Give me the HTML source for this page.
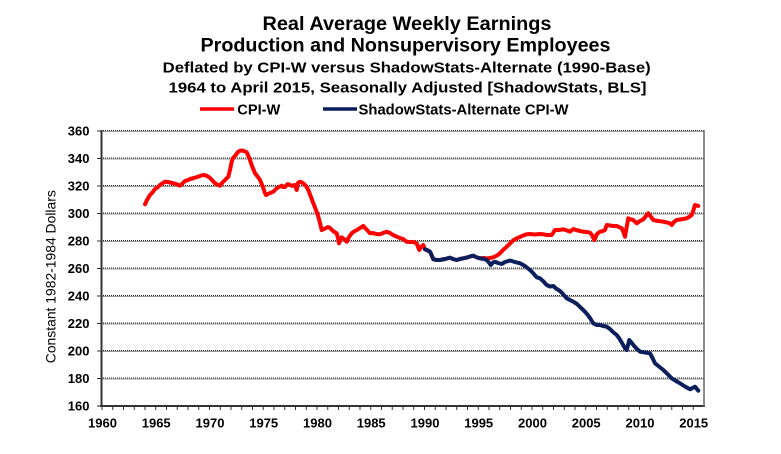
<!DOCTYPE html>
<html>
<head>
<meta charset="utf-8">
<style>
html,body{margin:0;padding:0;background:#fff;}
svg{display:block;}
text{font-family:"Liberation Sans",Arial,sans-serif;fill:#000;}
.b{font-weight:bold;}
</style>
</head>
<body>
<svg width="781" height="454" viewBox="0 0 781 454" xmlns="http://www.w3.org/2000/svg">
<rect x="0" y="0" width="781" height="454" fill="#fff"/>

<!-- Titles -->
<text class="b" x="407" y="30" font-size="19" text-anchor="middle" textLength="289" lengthAdjust="spacingAndGlyphs">Real Average Weekly Earnings</text>
<text class="b" x="405.5" y="51.7" font-size="19" text-anchor="middle" textLength="410" lengthAdjust="spacingAndGlyphs">Production and Nonsupervisory Employees</text>
<text class="b" x="406.7" y="72.7" font-size="15" text-anchor="middle" textLength="488" lengthAdjust="spacingAndGlyphs">Deflated by CPI-W versus ShadowStats-Alternate (1990-Base)</text>
<text class="b" x="407.5" y="92.3" font-size="15" text-anchor="middle" textLength="478" lengthAdjust="spacingAndGlyphs">1964 to April 2015, Seasonally Adjusted [ShadowStats, BLS]</text>

<!-- Legend -->
<line x1="200" y1="109" x2="234" y2="109" stroke="#ff0000" stroke-width="3.5"/>
<text class="b" x="237.3" y="114.3" font-size="14.5" textLength="43" lengthAdjust="spacingAndGlyphs">CPI-W</text>
<line x1="323" y1="109" x2="357" y2="109" stroke="#0b1f5c" stroke-width="3.5"/>
<text class="b" x="358.5" y="114.3" font-size="14.5" textLength="210" lengthAdjust="spacingAndGlyphs">ShadowStats-Alternate CPI-W</text>

<!-- Gridlines -->
<g stroke-width="1" fill="none">
  <g stroke="#9a9a9a">
    <line x1="101" y1="131.5" x2="704" y2="131.5"/>
    <line x1="101" y1="159" x2="704" y2="159"/>
    <line x1="101" y1="186.5" x2="704" y2="186.5"/>
    <line x1="101" y1="214" x2="704" y2="214"/>
    <line x1="101" y1="241.5" x2="704" y2="241.5"/>
    <line x1="101" y1="269" x2="704" y2="269"/>
    <line x1="101" y1="296.5" x2="704" y2="296.5"/>
    <line x1="101" y1="324" x2="704" y2="324"/>
    <line x1="101" y1="351.5" x2="704" y2="351.5"/>
    <line x1="101" y1="379" x2="704" y2="379"/>
  </g>
  <g stroke="#222" stroke-dasharray="1 1">
    <line x1="101" y1="130.5" x2="704" y2="130.5"/>
    <line x1="101" y1="158" x2="704" y2="158"/>
    <line x1="101" y1="185.5" x2="704" y2="185.5"/>
    <line x1="101" y1="213" x2="704" y2="213"/>
    <line x1="101" y1="240.5" x2="704" y2="240.5"/>
    <line x1="101" y1="268" x2="704" y2="268"/>
    <line x1="101" y1="295.5" x2="704" y2="295.5"/>
    <line x1="101" y1="323" x2="704" y2="323"/>
    <line x1="101" y1="350.5" x2="704" y2="350.5"/>
    <line x1="101" y1="378" x2="704" y2="378"/>
  </g>
</g>

<!-- Axes -->
<g stroke="#333" fill="none">
  <line x1="101.5" y1="130" x2="101.5" y2="407" stroke-width="2"/>
  <line x1="100" y1="406" x2="705" y2="406" stroke-width="2"/>
  <line x1="704" y1="130" x2="704" y2="407" stroke-width="1.5" stroke="#666"/>
</g>

<!-- Y ticks -->
<g stroke="#333" stroke-width="1">
  <line x1="97" y1="131" x2="101" y2="131"/>
  <line x1="97" y1="158.5" x2="101" y2="158.5"/>
  <line x1="97" y1="186" x2="101" y2="186"/>
  <line x1="97" y1="213.5" x2="101" y2="213.5"/>
  <line x1="97" y1="241" x2="101" y2="241"/>
  <line x1="97" y1="268.5" x2="101" y2="268.5"/>
  <line x1="97" y1="296" x2="101" y2="296"/>
  <line x1="97" y1="323.5" x2="101" y2="323.5"/>
  <line x1="97" y1="351" x2="101" y2="351"/>
  <line x1="97" y1="378.5" x2="101" y2="378.5"/>
  <line x1="97" y1="406" x2="101" y2="406"/>
</g>

<!-- X ticks every year -->
<g stroke="#333" stroke-width="1" id="xt">
  <line x1="102" y1="406" x2="102" y2="410"/><line x1="112.75" y1="406" x2="112.75" y2="410"/><line x1="123.5" y1="406" x2="123.5" y2="410"/><line x1="134.25" y1="406" x2="134.25" y2="410"/><line x1="145" y1="406" x2="145" y2="410"/>
  <line x1="155.75" y1="406" x2="155.75" y2="410"/><line x1="166.5" y1="406" x2="166.5" y2="410"/><line x1="177.25" y1="406" x2="177.25" y2="410"/><line x1="188" y1="406" x2="188" y2="410"/><line x1="198.75" y1="406" x2="198.75" y2="410"/>
  <line x1="209.5" y1="406" x2="209.5" y2="410"/><line x1="220.25" y1="406" x2="220.25" y2="410"/><line x1="231" y1="406" x2="231" y2="410"/><line x1="241.75" y1="406" x2="241.75" y2="410"/><line x1="252.5" y1="406" x2="252.5" y2="410"/>
  <line x1="263.25" y1="406" x2="263.25" y2="410"/><line x1="274" y1="406" x2="274" y2="410"/><line x1="284.75" y1="406" x2="284.75" y2="410"/><line x1="295.5" y1="406" x2="295.5" y2="410"/><line x1="306.25" y1="406" x2="306.25" y2="410"/>
  <line x1="317" y1="406" x2="317" y2="410"/><line x1="327.75" y1="406" x2="327.75" y2="410"/><line x1="338.5" y1="406" x2="338.5" y2="410"/><line x1="349.25" y1="406" x2="349.25" y2="410"/><line x1="360" y1="406" x2="360" y2="410"/>
  <line x1="370.75" y1="406" x2="370.75" y2="410"/><line x1="381.5" y1="406" x2="381.5" y2="410"/><line x1="392.25" y1="406" x2="392.25" y2="410"/><line x1="403" y1="406" x2="403" y2="410"/><line x1="413.75" y1="406" x2="413.75" y2="410"/>
  <line x1="424.5" y1="406" x2="424.5" y2="410"/><line x1="435.25" y1="406" x2="435.25" y2="410"/><line x1="446" y1="406" x2="446" y2="410"/><line x1="456.75" y1="406" x2="456.75" y2="410"/><line x1="467.5" y1="406" x2="467.5" y2="410"/>
  <line x1="478.25" y1="406" x2="478.25" y2="410"/><line x1="489" y1="406" x2="489" y2="410"/><line x1="499.75" y1="406" x2="499.75" y2="410"/><line x1="510.5" y1="406" x2="510.5" y2="410"/><line x1="521.25" y1="406" x2="521.25" y2="410"/>
  <line x1="532" y1="406" x2="532" y2="410"/><line x1="542.75" y1="406" x2="542.75" y2="410"/><line x1="553.5" y1="406" x2="553.5" y2="410"/><line x1="564.25" y1="406" x2="564.25" y2="410"/><line x1="575" y1="406" x2="575" y2="410"/>
  <line x1="585.75" y1="406" x2="585.75" y2="410"/><line x1="596.5" y1="406" x2="596.5" y2="410"/><line x1="607.25" y1="406" x2="607.25" y2="410"/><line x1="618" y1="406" x2="618" y2="410"/><line x1="628.75" y1="406" x2="628.75" y2="410"/>
  <line x1="639.5" y1="406" x2="639.5" y2="410"/><line x1="650.25" y1="406" x2="650.25" y2="410"/><line x1="661" y1="406" x2="661" y2="410"/><line x1="671.75" y1="406" x2="671.75" y2="410"/><line x1="682.5" y1="406" x2="682.5" y2="410"/>
  <line x1="693.25" y1="406" x2="693.25" y2="410"/>
</g>

<!-- Y labels -->
<g class="b" font-size="13" text-anchor="end">
  <text class="b" x="89.5" y="135.7">360</text>
  <text class="b" x="89.5" y="163.2">340</text>
  <text class="b" x="89.5" y="190.7">320</text>
  <text class="b" x="89.5" y="218.2">300</text>
  <text class="b" x="89.5" y="245.7">280</text>
  <text class="b" x="89.5" y="273.2">260</text>
  <text class="b" x="89.5" y="300.7">240</text>
  <text class="b" x="89.5" y="328.2">220</text>
  <text class="b" x="89.5" y="355.7">200</text>
  <text class="b" x="89.5" y="383.2">180</text>
  <text class="b" x="89.5" y="410.7">160</text>
</g>

<!-- X labels -->
<g font-size="13" text-anchor="middle">
  <text class="b" x="102.5" y="427.3">1960</text>
  <text class="b" x="156.2" y="427.3">1965</text>
  <text class="b" x="210" y="427.3">1970</text>
  <text class="b" x="263.7" y="427.3">1975</text>
  <text class="b" x="317.5" y="427.3">1980</text>
  <text class="b" x="371.2" y="427.3">1985</text>
  <text class="b" x="425" y="427.3">1990</text>
  <text class="b" x="478.7" y="427.3">1995</text>
  <text class="b" x="532.5" y="427.3">2000</text>
  <text class="b" x="586.2" y="427.3">2005</text>
  <text class="b" x="640" y="427.3">2010</text>
  <text class="b" x="693.7" y="427.3">2015</text>
</g>

<!-- Y axis title -->
<text x="0" y="0" font-size="14" text-anchor="middle" textLength="173" lengthAdjust="spacingAndGlyphs" transform="translate(55.5,276.7) rotate(-90)">Constant 1982-1984 Dollars</text>

<!-- CPI-W series (red) -->
<polyline fill="none" stroke="#ff0000" stroke-width="4" stroke-linejoin="round" stroke-linecap="round" points="
145,204.3 147,200 150,195 152,193 155,189 158,187 160,185 163,183 165,181.7 168,182 172,183 176,184 180,185.7 183,183 185,181 188,180 190,179 194,178 197,177 200,176 203.3,175 206,175.5 208.3,176.7 210,178 212,180 215,183.3 218,185 220,185.7 222,183 224,181 226,179 228.3,176.7 230,170 231.7,161.7 233,158 235,156 238,152 240,150.7 242,150.5 244,151 246.7,152.3 248,155 250,160 252,166 255,173.3 258,177 260,180 263,187 264.5,192 266,195 268,194 270,193 273.3,191.7 275,190 277,188 279,187 281.7,185.7 283,187 285,187 286.5,185 288,184 290,185 292,186 294,185 295,185 296.7,190 298,183 300,181.7 302,182.5 304,184 306,186 308.3,190 311,197 313.3,203.3 316,210 318.3,216.7 320,223 321.7,230 324,229 326,228 328,227 330,228 333,231 336.7,233.3 338,238 339,243.3 341.7,237.3 344,239 346.7,241.7 349,237 351.7,233.3 354,231.5 357,230 360,228 363.3,226 366,229 368,231 370,233.3 373,233 376,234 380,234.3 383,233 386.7,231.7 390,233 393,235 396.7,236.7 400,238 403,239 406.7,241.7 410,242 413,242 416.7,243.3 418,247 419.3,250 421,247 423.3,245 425,249.3 430,251.7 433.3,259.3 437,260 440,260 445,259 450,257.7 453,259 456.7,260 460,259 463.3,258.3 467,257.5 470,256.5 473.3,255.7 477,257.5 480,258.3 484,258 486.7,258.5 490,258 493.3,257.3 497,255.5 500,253.3 503,250 506.7,246.7 510,243.5 513,240.5 516.7,238.3 520,237 523,235.5 526.7,234.3 530,234 535,234.5 540,234 543.3,234.3 547,235 551.7,235 555,230 559,230 563.3,229.3 567,230.5 570,231.7 573.3,229 576,230 580,231 583.3,231.7 587,232 590,232.7 592,235 594.3,240 597,234 600,231.7 603,231 605,230 606.7,225 610,225.5 613,226 616.7,226 619,227 621.7,228.3 623,231 625,236.7 626.5,228 628.3,218.3 631,219.5 633.3,220 636.7,223.3 640,221 643.3,219.3 646,216 648.3,213.3 651,217 653.3,220 658,221 663.3,221.7 667,222.5 670,223.3 671.7,225 674,222 676.7,220 680,219.5 683,219 686.7,218.3 689,217 691.7,215 693.5,210 695,205 698.3,206"/>

<!-- ShadowStats series (navy) -->
<polyline fill="none" stroke="#0b1f5c" stroke-width="4" stroke-linejoin="round" stroke-linecap="round" points="
425,249.3 428,250.5 430,251.7 432,256 433.3,259.3 437,260 440,260 445,259 450,257.7 453,259 456.7,260 460,259 463.3,258.3 467,257.5 470,256.5 473.3,255.7 477,257.5 480,258.3 484,259 486.7,260 488.5,262 490.7,265 493,262.5 495,261.7 498,263 501.7,264 505,262 510,260.5 515,262 520,263.3 525,266 530,270 533,273 536.7,277.3 540,278.3 543,281 546.7,285 550,286.5 553.3,286 556,288.5 560,291 563,294 566.7,298.3 570,300 573.3,301.7 577,304 580,307 583.3,310 587,314 590,318 593.3,323.3 596.7,325 600,325 603,326 606.7,326.7 610,329 613,332 616.7,335 619,338 622,343 625,348.3 626.7,350 628,345 629.3,340 631,342 633.3,345 636,348 640,351.7 645,352.5 650,353.3 652.5,358 655,363.3 659,366.5 663.3,370 667,373.5 671.7,378.3 676,381 680,383.3 685,386.5 690,389.3 692.5,388 695,386.7 698.3,390.7"/>

</svg>
</body>
</html>
